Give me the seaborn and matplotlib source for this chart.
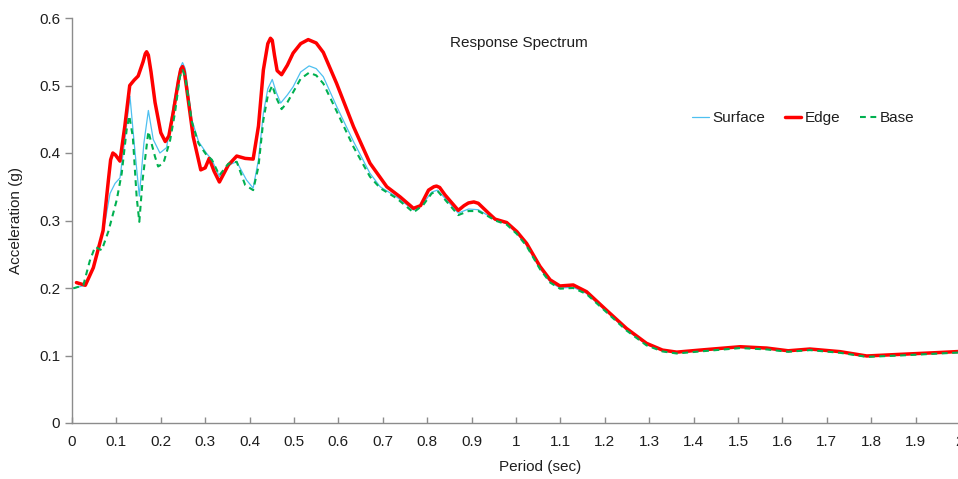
import matplotlib
matplotlib.use("Agg")
import matplotlib.pyplot as plt
import seaborn as sns
from matplotlib.ticker import FuncFormatter

# Spectral acceleration (g) versus period (sec) for three locations
edge_period = [0.01, 0.03, 0.048, 0.07, 0.082, 0.087, 0.092, 0.098, 0.108, 0.119,
               0.13, 0.14, 0.149, 0.16, 0.165, 0.168, 0.172, 0.178, 0.187, 0.2,
               0.21, 0.218, 0.228, 0.24, 0.245, 0.249, 0.253, 0.258, 0.273, 0.29,
               0.3, 0.309, 0.32, 0.332, 0.352, 0.371, 0.39, 0.408, 0.42, 0.431,
               0.441, 0.447, 0.451, 0.456, 0.462, 0.472, 0.485, 0.498, 0.515, 0.532,
               0.55, 0.566, 0.596, 0.634, 0.671, 0.709, 0.739, 0.769, 0.785, 0.803,
               0.815, 0.821, 0.828, 0.84, 0.87, 0.883, 0.893, 0.905, 0.915, 0.938,
               0.953, 0.979, 1.002, 1.024, 1.054, 1.077, 1.099, 1.129, 1.159, 1.204,
               1.249, 1.294, 1.33, 1.362, 1.414, 1.505, 1.565, 1.613, 1.662, 1.73,
               1.79, 1.865, 1.94, 2.0]
edge_acc = [0.208, 0.204, 0.23, 0.285, 0.36, 0.39, 0.40, 0.397, 0.388, 0.44,
            0.50, 0.508, 0.514, 0.535, 0.547, 0.550, 0.545, 0.52, 0.475, 0.43,
            0.417, 0.425, 0.46, 0.508, 0.524, 0.528, 0.52, 0.497, 0.424, 0.375,
            0.378, 0.392, 0.373, 0.357, 0.382, 0.3955, 0.392, 0.391, 0.44, 0.523,
            0.562, 0.570, 0.567, 0.545, 0.522, 0.516, 0.53, 0.548, 0.562, 0.568,
            0.563, 0.549, 0.503, 0.439, 0.385, 0.350, 0.335, 0.318, 0.322, 0.345,
            0.350, 0.351, 0.349, 0.338, 0.315, 0.322, 0.326, 0.3275, 0.3255, 0.311,
            0.302, 0.297, 0.2835, 0.266, 0.232, 0.212, 0.203, 0.2045, 0.1945, 0.167,
            0.140, 0.118, 0.108, 0.105, 0.108, 0.113, 0.111, 0.107, 0.1096, 0.1057,
            0.0993, 0.1017, 0.104, 0.106]

surface_period = [0.003, 0.029, 0.048, 0.063, 0.075, 0.0856, 0.097, 0.108, 0.119, 0.1306,
                  0.14, 0.1516, 0.162, 0.172, 0.183, 0.198, 0.213, 0.228, 0.243, 0.249,
                  0.255, 0.26, 0.27, 0.285, 0.303, 0.315, 0.332, 0.352, 0.371, 0.393,
                  0.408, 0.42, 0.431, 0.441, 0.451, 0.46, 0.47, 0.485, 0.498, 0.515,
                  0.534, 0.55, 0.566, 0.596, 0.634, 0.671, 0.694, 0.731, 0.769, 0.791,
                  0.81, 0.823, 0.84, 0.87, 0.893, 0.915, 0.938, 0.953, 0.979, 1.002,
                  1.024, 1.054, 1.077, 1.099, 1.129, 1.159, 1.204, 1.249, 1.294, 1.33,
                  1.362, 1.414, 1.505, 1.565, 1.613, 1.662, 1.73, 1.79, 1.865, 1.94, 2.0]
surface_acc = [0.1995, 0.204, 0.23, 0.266, 0.30, 0.34, 0.355, 0.363, 0.42, 0.484,
               0.415, 0.336, 0.415, 0.463, 0.42, 0.40, 0.408, 0.47, 0.525, 0.534,
               0.525, 0.50, 0.449, 0.417, 0.3995, 0.39, 0.365, 0.382, 0.387, 0.36,
               0.348, 0.39, 0.459, 0.495, 0.509, 0.49, 0.474, 0.486, 0.498, 0.52,
               0.529, 0.525, 0.513, 0.469, 0.417, 0.370, 0.35, 0.335, 0.3156, 0.3255,
               0.342, 0.345, 0.333, 0.311, 0.317, 0.316, 0.307, 0.301, 0.295, 0.281,
               0.263, 0.229, 0.209, 0.200, 0.201, 0.192, 0.165, 0.138, 0.116, 0.107,
               0.104, 0.107, 0.112, 0.110, 0.1065, 0.109, 0.105, 0.099, 0.101, 0.1035, 0.1055]

base_period = [0.003, 0.0255, 0.04, 0.052, 0.067, 0.082, 0.1006, 0.112, 0.123, 0.129,
               0.137, 0.1456, 0.1516, 0.159, 0.172, 0.187, 0.194, 0.206, 0.221, 0.232,
               0.243, 0.249, 0.255, 0.26, 0.27, 0.285, 0.303, 0.315, 0.332, 0.352,
               0.371, 0.39, 0.408, 0.42, 0.431, 0.441, 0.451, 0.46, 0.472, 0.485,
               0.498, 0.515, 0.534, 0.55, 0.566, 0.596, 0.634, 0.671, 0.694, 0.731,
               0.769, 0.791, 0.81, 0.823, 0.84, 0.87, 0.893, 0.915, 0.938, 0.953,
               0.979, 1.002, 1.024, 1.054, 1.077, 1.099, 1.129, 1.159, 1.204, 1.249,
               1.294, 1.33, 1.362, 1.414, 1.505, 1.565, 1.613, 1.662, 1.73, 1.79,
               1.865, 1.94, 2.0]
base_acc = [0.1995, 0.204, 0.24, 0.261, 0.256, 0.284, 0.33, 0.37, 0.434, 0.455,
            0.424, 0.335, 0.298, 0.36, 0.432, 0.3945, 0.38, 0.385, 0.419, 0.46,
            0.513, 0.523, 0.513, 0.49, 0.446, 0.414, 0.397, 0.39, 0.367, 0.384,
            0.387, 0.3526, 0.345, 0.38, 0.449, 0.485, 0.50, 0.482, 0.465, 0.475,
            0.49, 0.51, 0.519, 0.515, 0.503, 0.462, 0.409, 0.365, 0.348, 0.333,
            0.312, 0.323, 0.340, 0.344, 0.331, 0.308, 0.314, 0.314, 0.306, 0.300,
            0.294, 0.280, 0.262, 0.228, 0.208, 0.199, 0.200, 0.191, 0.164, 0.137,
            0.115, 0.106, 0.103, 0.106, 0.111, 0.109, 0.1055, 0.108, 0.104, 0.098,
            0.100, 0.1025, 0.1045]

x_ticks = [round(0.1 * i, 1) for i in range(21)]
y_ticks = [0, 0.1, 0.2, 0.3, 0.4, 0.5, 0.6]

sns.set_theme(style="white")
plt.rcParams["font.family"] = ["Liberation Sans", "DejaVu Sans"]

W, H = 958, 479
fig = plt.figure(figsize=(W / 100, H / 100), dpi=100)
ax = fig.add_axes([72 / W, (H - 423) / H, 888 / W, 405 / H])

sns.lineplot(x=surface_period, y=surface_acc, ax=ax, color="#4EC0F0",
             linewidth=0.9, label="Surface", sort=False)
sns.lineplot(x=edge_period, y=edge_acc, ax=ax, color="#FF0000",
             linewidth=2.5, label="Edge", sort=False)
sns.lineplot(x=base_period, y=base_acc, ax=ax, color="#00B050",
             linewidth=1.5, label="Base", sort=False)
ax.lines[2].set_dashes((2.8, 2.2))
for ln in ax.lines:
    ln.set_solid_joinstyle("round")
    ln.set_dash_joinstyle("round")

ax.set_xlim(0, 2)
ax.set_ylim(0, 0.6)
ax.set_xticks(x_ticks)
ax.set_yticks(y_ticks)
fmt = FuncFormatter(lambda v, p: f"{v:g}")
ax.xaxis.set_major_formatter(fmt)
ax.yaxis.set_major_formatter(fmt)

for side in ("top", "right"):
    ax.spines[side].set_visible(False)
for side in ("left", "bottom"):
    ax.spines[side].set_color("#8C8C8C")
    ax.spines[side].set_linewidth(1.0)

ax.tick_params(axis="x", direction="in", length=4, width=1.0, color="#8C8C8C",
               pad=8.5, labelsize=11, labelcolor="#1E1E1E", bottom=True)
ax.tick_params(axis="y", direction="out", length=5, width=1.0, color="#8C8C8C",
               pad=3.5, labelsize=11, labelcolor="#1E1E1E", left=True)

ax.set_xlabel("Period (sec)", fontsize=11, color="#1E1E1E")
ax.set_ylabel("Acceleration (g)", fontsize=11, color="#1E1E1E")
ax.xaxis.set_label_coords((540 - 72) / 888, (423 - 460) / 405)
ax.yaxis.set_label_coords((23 - 72) / 888, 0.5)

ax.text((519 - 72) / 888, (423 - 43) / 405, "Response Spectrum", transform=ax.transAxes,
        ha="center", va="center", fontsize=11, color="#1E1E1E")

leg = ax.legend(loc="center left", bbox_to_anchor=((692 - 72) / 888, (423 - 118) / 405),
                ncol=3, frameon=False, fontsize=11, handlelength=1.1,
                handletextpad=0.2, columnspacing=1.3, borderpad=0, borderaxespad=0)
for t in leg.get_texts():
    t.set_color("#1E1E1E")

fig.savefig("out.png", dpi=100, facecolor="white")
